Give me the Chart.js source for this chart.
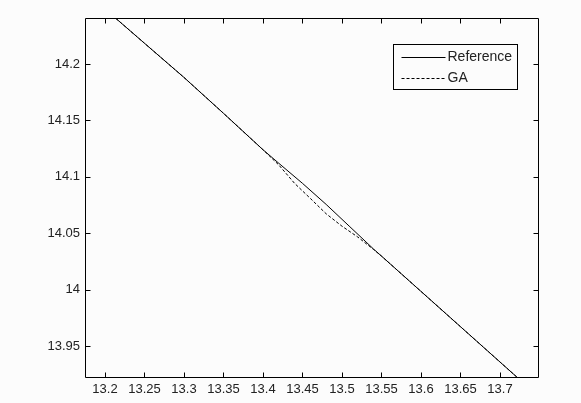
<!DOCTYPE html>
<html>
<head>
<meta charset="utf-8">
<script src="https://cdn.jsdelivr.net/npm/chart.js@4.4.1/dist/chart.umd.min.js"></script>
<style>
  html, body { margin: 0; padding: 0; background: #fcfcfc; }
  #wrap { width: 581px; height: 403px; }
</style>
</head>
<body>
<div id="wrap"><canvas id="c" width="581" height="403"></canvas></div>
<script>
// ---- data ----
const seriesNames = ['Reference', 'GA'];
const refX = [13.19, 13.25, 13.30, 13.35, 13.40, 13.42, 13.45, 13.48, 13.51, 13.54, 13.55, 13.60, 13.65, 13.70, 13.73];
const refY = [14.2549, 14.2184, 14.1881, 14.1563, 14.1240, 14.1120, 14.0942, 14.0755, 14.0557, 14.0359, 14.0297, 13.9984, 13.9671, 13.9358, 13.9170];
const gaX  = [13.19, 13.25, 13.30, 13.35, 13.40, 13.42, 13.44, 13.46, 13.48, 13.50, 13.52, 13.54, 13.55, 13.60, 13.65, 13.70, 13.73];
const gaY  = [14.2549, 14.2184, 14.1881, 14.1563, 14.1240, 14.1105, 14.0942, 14.0808, 14.0672, 14.0562, 14.0466, 14.0355, 14.0297, 13.9984, 13.9671, 13.9358, 13.9170];
const xTicks = [13.2, 13.25, 13.3, 13.35, 13.4, 13.45, 13.5, 13.55, 13.6, 13.65, 13.7];
const xTickLabels = ['13.2', '13.25', '13.3', '13.35', '13.4', '13.45', '13.5', '13.55', '13.6', '13.65', '13.7'];
const yTicks = [13.95, 14.0, 14.05, 14.1, 14.15, 14.2];
const yTickLabels = ['13.95', '14', '14.05', '14.1', '14.15', '14.2'];
const xRange = [13.1747, 13.7494];
const yRange = [13.9216, 14.2408];

const toPts = (xs, ys) => xs.map((v, i) => ({ x: v, y: ys[i] }));

const bgPlugin = {
  id: 'bg',
  beforeDraw(chart) {
    const ctx = chart.ctx;
    ctx.save();
    ctx.fillStyle = '#fcfcfc';
    ctx.fillRect(0, 0, chart.width, chart.height);
    ctx.restore();
  }
};

const framePlugin = {
  id: 'frame',
  afterDraw(chart) {
    const ctx = chart.ctx;
    const { left, right, top, bottom } = chart.chartArea;
    const xs = chart.scales.x, ys = chart.scales.y;
    const L = Math.round(left) + 0.5, R = Math.round(right) - 0.5;
    const T = Math.round(top) + 0.5, B = Math.round(bottom) - 0.5;
    ctx.save();
    ctx.strokeStyle = '#000';
    ctx.lineWidth = 1;
    ctx.beginPath();
    ctx.rect(L, T, R - L, B - T);
    const tl = 5;
    xs.ticks.forEach(t => {
      const p = Math.round(xs.getPixelForValue(t.value)) + 0.5;
      ctx.moveTo(p, B); ctx.lineTo(p, B - tl);
      ctx.moveTo(p, T); ctx.lineTo(p, T + tl);
    });
    ys.ticks.forEach(t => {
      const p = Math.round(ys.getPixelForValue(t.value)) + 0.5;
      ctx.moveTo(L, p); ctx.lineTo(L + tl, p);
      ctx.moveTo(R, p); ctx.lineTo(R - tl, p);
    });
    ctx.stroke();

    // legend box (MATLAB style, inside the axes, top right)
    const bx = Math.round(right) - 146 + 0.5, by = Math.round(top) + 26 + 0.5;
    const bw = 124, bh = 45;
    ctx.fillStyle = '#fcfcfc';
    ctx.fillRect(bx, by, bw, bh);
    ctx.strokeRect(bx, by, bw, bh);
    ctx.font = '14px "Liberation Sans", Arial, sans-serif';
    ctx.textBaseline = 'middle';
    ctx.textAlign = 'left';
    chart.data.datasets.forEach((ds, i) => {
      const ly = Math.round(by + 12 + i * 21.5) + 0.5;
      ctx.beginPath();
      ctx.strokeStyle = ds.borderColor;
      ctx.lineWidth = ds.borderWidth;
      ctx.setLineDash(ds.borderDash || []);
      ctx.moveTo(bx + 8, ly);
      ctx.lineTo(bx + 52, ly);
      ctx.stroke();
      ctx.setLineDash([]);
      ctx.fillStyle = '#222';
      ctx.fillText(ds.label, bx + 54, ly);
    });
    ctx.restore();
  }
};

new Chart(document.getElementById('c'), {
  type: 'scatter',
  data: {
    datasets: [
      { label: seriesNames[0], data: toPts(refX, refY), showLine: true, borderColor: '#000', borderWidth: 1, pointRadius: 0, borderDash: [] },
      { label: seriesNames[1], data: toPts(gaX, gaY), showLine: true, borderColor: '#000', borderWidth: 1, pointRadius: 0, borderDash: [3, 2] }
    ]
  },
  options: {
    responsive: false,
    animation: false,
    devicePixelRatio: 1,
    layout: { padding: { left: 0, right: 42, top: 18, bottom: 0 } },
    plugins: { legend: { display: false }, tooltip: { enabled: false } },
    scales: {
      x: {
        type: 'linear', min: xRange[0], max: xRange[1],
        grid: { display: false, drawTicks: false },
        border: { display: false },
        afterBuildTicks: s => { s.ticks = xTicks.map(v => ({ value: v })); },
        afterFit: s => { s.height = 25; },
        ticks: {
          padding: 4, color: '#222', maxRotation: 0, autoSkip: false,
          font: { family: '"Liberation Sans", Arial, sans-serif', size: 13 },
          callback: (v, i) => xTickLabels[i]
        }
      },
      y: {
        type: 'linear', min: yRange[0], max: yRange[1],
        grid: { display: false, drawTicks: false },
        border: { display: false },
        afterBuildTicks: s => { s.ticks = yTicks.map(v => ({ value: v })); },
        afterFit: s => { s.width = 85; },
        ticks: {
          padding: 5, color: '#222', autoSkip: false,
          font: { family: '"Liberation Sans", Arial, sans-serif', size: 13 },
          callback: (v, i) => yTickLabels[i]
        }
      }
    }
  },
  plugins: [bgPlugin, framePlugin]
});
</script>
</body>
</html>
